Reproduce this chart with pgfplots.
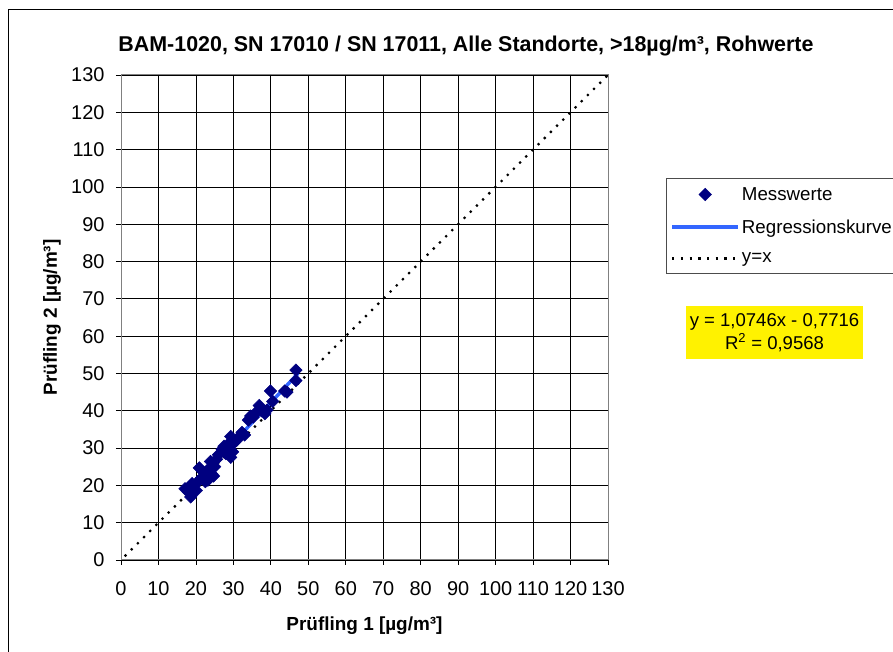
\documentclass[border=0pt]{standalone}
\usepackage{fontspec}
\setmainfont{Liberation Sans}
\usepackage{pgfplots}
\pgfplotsset{compat=1.18}
\definecolor{navy}{HTML}{000080}
\definecolor{regblue}{HTML}{3366FF}

\pgfplotstableread{
x y
17.1 19.1
18.0 18.2
18.6 16.9
19.0 20.5
19.5 19.8
20.1 18.6
20.5 21.0
20.9 24.7
21.5 22.0
22.0 23.5
22.5 21.0
23.2 21.4
23.5 24.5
23.9 26.4
24.3 23.0
24.7 22.5
25.0 25.0
25.5 27.0
26.0 28.2
27.0 29.7
27.5 30.5
28.0 28.5
28.5 31.0
29.3 33.1
29.3 27.5
29.8 29.0
30.2 31.5
30.8 32.0
31.5 33.0
32.3 34.2
33.0 33.5
34.0 37.5
34.6 38.6
35.3 38.3
36.0 39.5
36.9 41.4
37.5 40.0
38.4 39.2
39.0 40.2
39.9 45.3
40.5 42.5
43.7 45.3
44.3 45.0
46.7 50.9
46.7 48.1
}\messwerte

\begin{document}
\begin{tikzpicture}[x=1bp,y=1bp]
\useasboundingbox (0,0) rectangle (893,652);
% outer chart frame (right and bottom edge lie outside the picture)
\draw[black, line width=1bp] (8,-10) -- (8,642) -- (910,642);
\node[font=\fontsize{21.5}{25}\selectfont\bfseries] at (466,606)
  {BAM-1020, SN 17010 / SN 17011, Alle Standorte, >18µg/m³, Rohwerte};
\coordinate (O) at (121,92);

\begin{axis}[
  at={(O)}, anchor=south west,
  scale only axis, width=487bp, height=485bp,
  xmin=0, xmax=130, ymin=0, ymax=130,
  xtick distance=10, ytick distance=10,
  grid=major,
  major grid style={black, line width=0.8bp},
  axis line style={black!50, line width=1bp},
  tick align=outside, tick pos=left,
  major tick length=5bp,
  tick style={black, line width=0.8bp},
  /pgf/number format/assume math mode=true,
  ticklabel style={font=\fontsize{20}{23}\selectfont},
  xticklabel style={anchor=center, yshift=-24bp},
  yticklabel style={anchor=east, xshift=-8bp},
  xlabel={Prüfling 1 [µg/m³]},
  ylabel={Prüfling 2 [µg/m³]},
  label style={font=\fontsize{19}{22}\selectfont\bfseries},
  xlabel style={at={([yshift=-66bp]axis description cs:0.5,0)}, anchor=center},
  ylabel style={at={([xshift=-69bp]axis description cs:0,0.5)}, anchor=center},
  legend image code/.code={%
    \draw[mark repeat=2, mark phase=2, #1] plot coordinates {(0bp,0bp) (33bp,0bp) (66bp,0bp)};},
  legend style={at={(axis description cs:1.119,0.788)}, anchor=north west,
    draw=black!70, line width=1bp, fill=white,
    font=\fontsize{18.8}{22}\selectfont,
    inner xsep=4bp, inner ysep=7bp, row sep=14bp,
    cells={anchor=west}},
]
\addplot[only marks, color=navy, mark=square*, mark size=4.4bp,
  mark options={rotate=45, draw=navy, fill=navy, line width=0.5bp}] table {\messwerte};
\addlegendentry{Messwerte}
\addplot[regblue, line width=3.5bp] coordinates {(17.1,17.60) (47.3,50.05)};
\addlegendentry{Regressionskurve}
\addplot[black, line width=2.2bp, dash pattern=on 2.2bp off 6.5bp] coordinates {(1,1) (130,130)};
\addlegendentry{y=x}
\end{axis}

\node[fill=yellow, minimum width=177bp, minimum height=53bp, inner sep=0pt,
  align=center, font=\fontsize{18.6}{23}\selectfont] at (774.5,319.5)
  {y = 1,0746x - 0,7716\\R\textsuperscript{2} = 0,9568};
\end{tikzpicture}
\end{document}
